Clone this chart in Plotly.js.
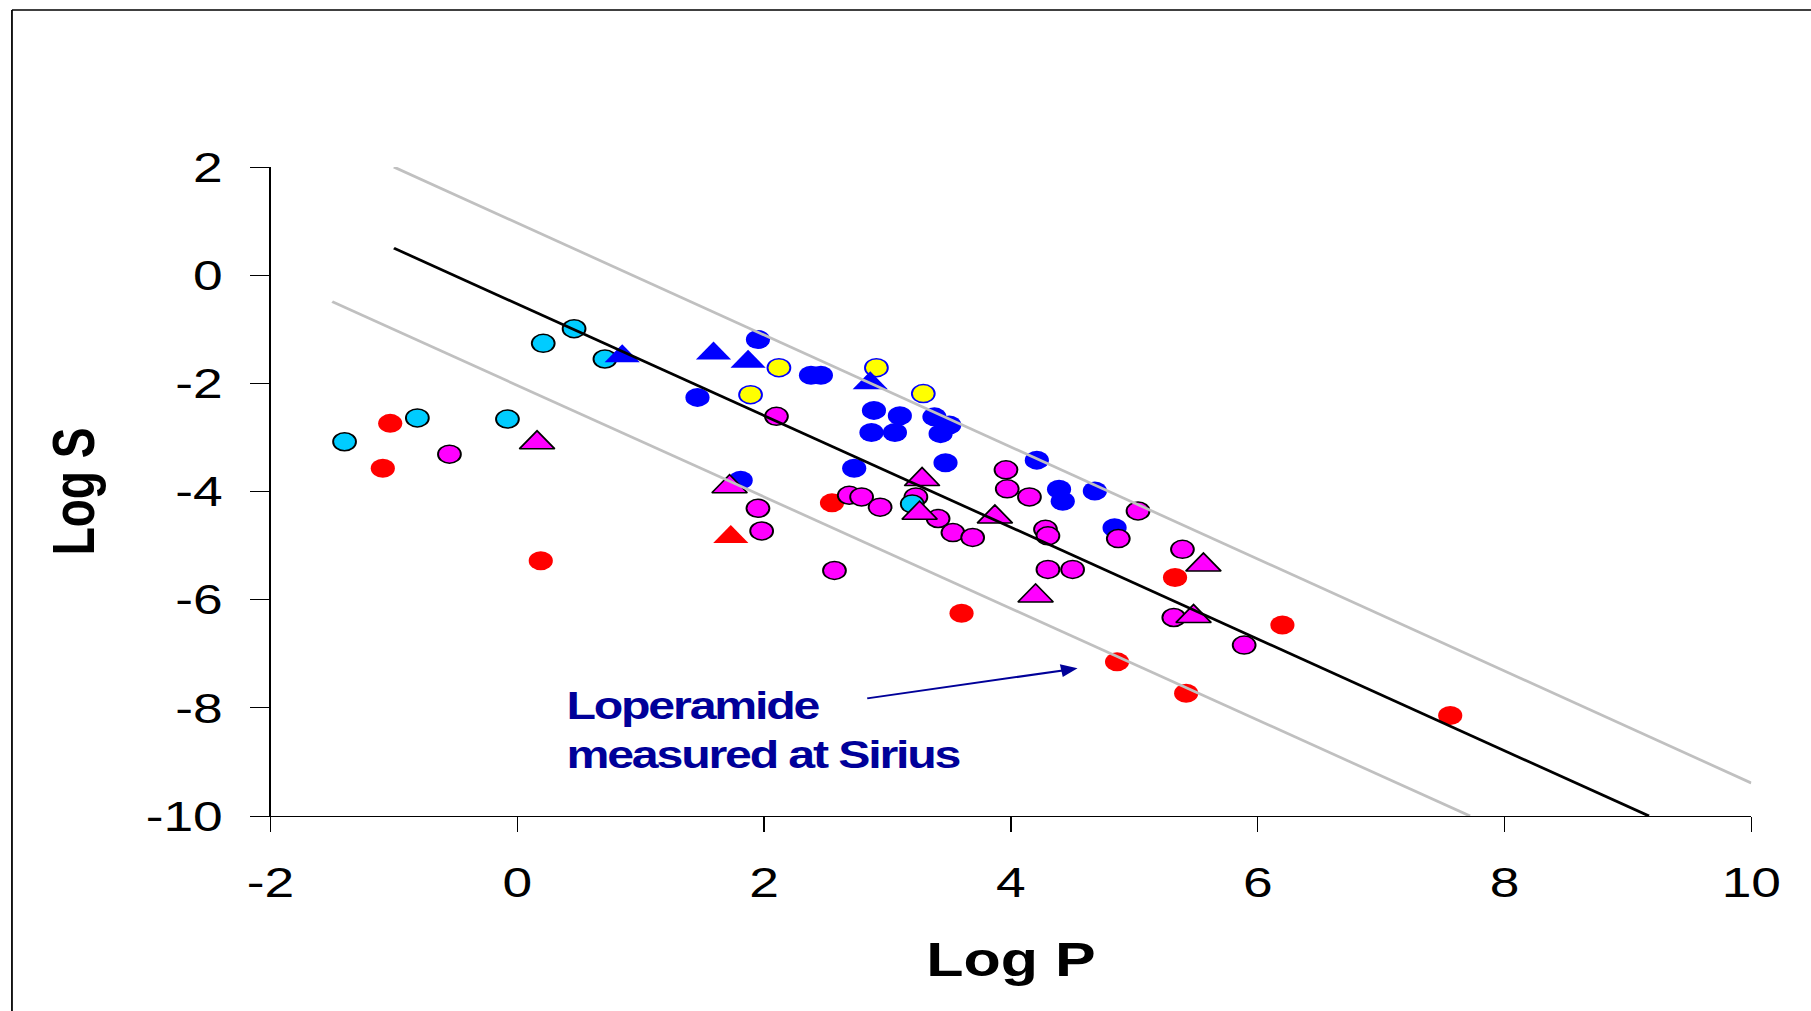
<!DOCTYPE html>
<html><head><meta charset="utf-8">
<script src="https://cdn.plot.ly/plotly-3.0.1.min.js"></script>
<style>
html,body{margin:0;padding:0;background:#fff;overflow:hidden}
#wrap{width:1811px;height:1011px;overflow:hidden;position:relative}
#chart{width:1426px;height:1011px;transform:scaleX(1.27);transform-origin:0 0}
#chart .annotation-text{letter-spacing:-1.7px}
</style></head><body><div id="wrap"><div id="chart"></div></div>
<script>
// ---- data (Log P, Log S) ----
const blueCircleX = [1.46, 1.95, 2.38, 2.46, 2.89, 3.10, 3.38, 3.50, 3.43, 2.87, 3.06, 1.81, 2.73, 3.47, 4.21, 4.39, 4.42, 4.68, 4.84];
const blueCircleY = [-2.26, -1.19, -1.85, -1.85, -2.50, -2.60, -2.62, -2.77, -2.93, -2.91, -2.91, -3.79, -3.57, -3.47, -3.42, -3.96, -4.18, -3.99, -4.67];

const redCircleX = [-1.03, -1.09, 0.19, 2.55, 3.60, 5.33, 6.20, 4.86, 5.42, 7.56];
const redCircleY = [-2.74, -3.57, -5.28, -4.21, -6.25, -5.59, -6.47, -7.15, -7.73, -8.14];

const yellowX = [1.89, 2.12, 2.91, 3.29];
const yellowY = [-2.21, -1.71, -1.71, -2.19];

const magentaX = [-0.55, 2.10, 1.95, 1.98, 2.69, 2.79, 2.94, 2.57, 3.23, 3.41, 3.53, 3.69, 3.96, 3.97, 4.15, 4.28, 4.30, 4.30, 4.50, 5.03, 4.87, 5.39, 5.32, 5.89];
const magentaY = [-3.31, -2.61, -4.31, -4.73, -4.07, -4.10, -4.29, -5.46, -4.10, -4.50, -4.76, -4.85, -3.60, -3.95, -4.10, -4.70, -4.82, -5.44, -5.44, -4.36, -4.87, -5.07, -6.33, -6.84];

const cyanX = [0.46, 0.21, 0.71, -1.40, -0.81, -0.08, 3.20];
const cyanY = [-0.99, -1.26, -1.55, -3.08, -2.64, -2.66, -4.23];

const blueTriX = [0.85, 1.59, 1.87, 2.86];
const blueTriY = [-1.50, -1.45, -1.60, -2.00];

const redTriX = [1.73];
const redTriY = [-4.84];

const magTriX = [0.16, 1.72, 3.28, 3.26, 3.87, 4.20, 5.56, 5.48];
const magTriY = [-3.10, -3.91, -3.78, -4.40, -4.47, -5.93, -5.36, -6.31];

// reference lines
const fitX = [-1.0, 9.17];
const fitY = [0.50, -10.0];
const upperX = [-1.0, 10.0];
const upperY = [2.0, -9.39];
const lowerX = [-1.5, 7.72];
const lowerY = [-0.49, -10.0];

// annotation (arrow tail -> head, text anchor)
const arrowTail = [2.82, -7.83];
const arrowHead = [4.54, -7.27];
const noteAt = [0.38, -8.41];
const noteText = '<b>Loperamide<br>measured at Sirius</b>';

// ticks
const xTickVals = [-2, 0, 2, 4, 6, 8, 10];
const xTickText = ['-2', '0', '2', '4', '6', '8', '10'];
const yTickVals = [-10, -8, -6, -4, -2, 0, 2];
const yTickText = ['-10', '-8', '-6', '-4', '-2', '0', '2'];

// ---- styling ----
const CIRC = 18, TRI = 24;
function pts(x, y, color, symbol, size, lineColor, lineW) {
  return {type: 'scatter', mode: 'markers', x: x, y: y, hoverinfo: 'skip',
    marker: {symbol: symbol, size: size, color: color,
      line: {color: lineColor || color, width: lineW || 0}}};
}
function ln(x, y, color, w) {
  return {type: 'scatter', mode: 'lines', x: x, y: y, hoverinfo: 'skip',
    line: {color: color, width: w}};
}

const traces = [
  pts(blueCircleX, blueCircleY, '#0000FF', 'circle', CIRC + 1),
  pts(redCircleX, redCircleY, '#FF0000', 'circle', CIRC + 1),
  pts(yellowX, yellowY, '#FFFF00', 'circle', CIRC, '#0000FF', 1.5),
  pts(magentaX, magentaY, '#FF00FF', 'circle', CIRC, '#000000', 1.5),
  pts(cyanX, cyanY, '#00CCFF', 'circle', CIRC, '#000000', 1.5),
  pts(blueTriX, blueTriY, '#0000FF', 'triangle-up', TRI),
  pts(redTriX, redTriY, '#FF0000', 'triangle-up', TRI),
  pts(magTriX, magTriY, '#FF00FF', 'triangle-up', TRI, '#000000', 1.5),
  ln(upperX, upperY, '#C0C0C0', 2.6),
  ln(lowerX, lowerY, '#C0C0C0', 2.6),
  ln(fitX, fitY, '#000000', 2.6)
];

const FONT = 'Liberation Sans, Arial, Helvetica, sans-serif';

const layout = {
  width: 1426, height: 1011,
  margin: {l: 213, r: 47, t: 167, b: 195},
  paper_bgcolor: '#ffffff', plot_bgcolor: '#ffffff',
  showlegend: false,
  font: {family: FONT, color: '#000000'},
  xaxis: {
    range: [-2, 10], tickmode: 'array', tickvals: xTickVals, ticktext: xTickText,
    ticks: 'outside', ticklen: 15, tickwidth: 1, tickcolor: '#000000',
    showline: true, linecolor: '#000000', linewidth: 1.2,
    showgrid: false, zeroline: false,
    tickfont: {family: FONT, size: 42, color: '#000000'},
    ticklabelstandoff: 14,
    title: {text: '<b>Log P</b>', font: {family: FONT, size: 48, color: '#000000'}, standoff: 37}
  },
  yaxis: {
    range: [-10, 2], tickmode: 'array', tickvals: yTickVals, ticktext: yTickText,
    ticks: 'outside', ticklen: 15, tickwidth: 1, tickcolor: '#000000',
    showline: true, linecolor: '#000000', linewidth: 1.2,
    showgrid: false, zeroline: false,
    tickfont: {family: FONT, size: 42, color: '#000000'},
    ticklabelstandoff: 13,
    title: {text: '<b>Log S</b>', font: {family: FONT, size: 46, color: '#000000'}, standoff: 25}
  },
  shapes: [
    {type: 'line', xref: 'paper', yref: 'paper', x0: -0.1746, x1: -0.1746, y0: -0.4, y1: 1.2419,
     line: {color: '#000000', width: 1.4}},
    {type: 'line', xref: 'paper', yref: 'paper', x0: -0.1746, x1: 1.2, y0: 1.2419, y1: 1.2419,
     line: {color: '#000000', width: 1.6}}
  ],
  annotations: [
    {x: arrowHead[0], y: arrowHead[1], ax: arrowTail[0], ay: arrowTail[1],
     xref: 'x', yref: 'y', axref: 'x', ayref: 'y', text: '', showarrow: true,
     arrowhead: 2, arrowsize: 1.3, arrowwidth: 2, arrowcolor: '#000099'},
    {x: noteAt[0], y: noteAt[1], xref: 'x', yref: 'y', xanchor: 'left', yanchor: 'middle',
     showarrow: false, align: 'left', text: noteText,
     font: {family: FONT, size: 38, color: '#000099'}}
  ]
};

Plotly.newPlot('chart', traces, layout, {staticPlot: true, displayModeBar: false});
</script>
</body></html>
